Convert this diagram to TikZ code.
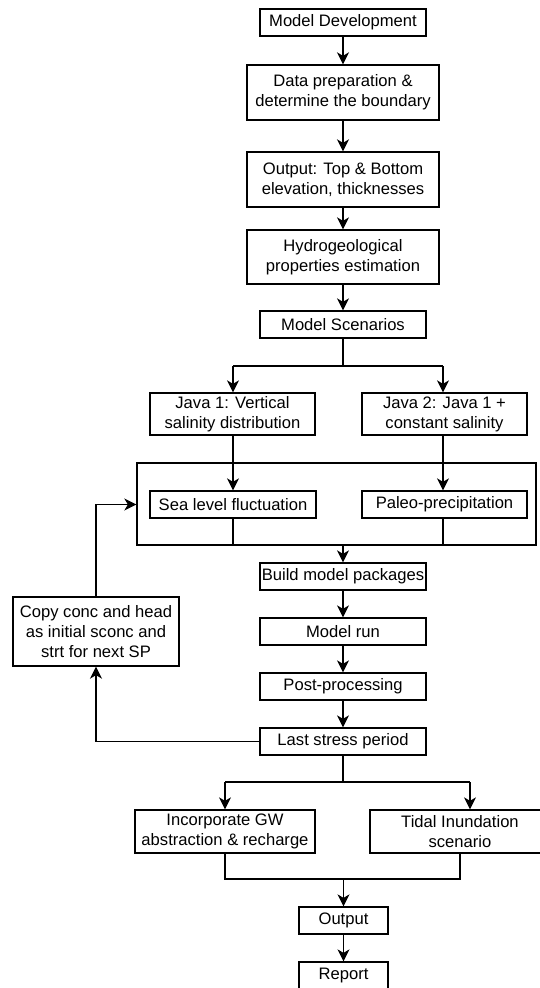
\documentclass[tikz,border=0pt]{standalone}
\usepackage{fontspec}
\setmainfont{Liberation Sans}
\usetikzlibrary{arrows.meta,positioning,calc}
\tikzset{
  box/.style={draw=black, line width=1.3pt, fill=white, align=center, inner sep=1pt,
    font=\fontsize{16.6}{20}\selectfont, minimum width=#1},
  box/.default=166pt,
  link/.style={line width=1.4pt, draw=black},
  arr/.style={link, -{Stealth[length=12pt,width=12pt,inset=3.5pt]}},
}
\begin{document}
\begin{tikzpicture}[x=1pt,y=-1pt]
\fill[white] (0,0) rectangle (539,988);
\useasboundingbox (0,0) rectangle (539,988);

% container
\node[draw=black, line width=1.3pt, minimum width=399pt, minimum height=82pt, inner sep=0pt] (cont) at (336.5,504) {};

\node[box=166pt, minimum height=27pt] (md) at (343,22.5) {Model Development};
\node[box=192pt, minimum height=55pt] (dp) at (343,92.5) {Data preparation \&\\determine the boundary};
\node[box=192pt, minimum height=55pt] (ot) at (343,179.5) {Output: Top \& Bottom\\elevation, thicknesses};
\node[box=192pt, minimum height=54pt] (hp) at (343,257) {Hydrogeological\\properties estimation};
\node[box=166pt, minimum height=27pt] (ms) at (343,324.5) {Model Scenarios};
\node[box=165pt, minimum height=42pt] (j1) at (232.5,414) {Java 1: Vertical\\salinity distribution};
\node[box=165pt, minimum height=42pt] (j2) at (444.5,414) {Java 2: Java 1 +\\constant salinity};
\node[box=166pt, minimum height=27pt] (sl) at (233,504.5) {Sea level fluctuation};
\node[box=165pt, minimum height=27pt] (pp) at (444.5,504.5) {Paleo-precipitation};
\node[box=166pt, minimum height=27pt] (bm) at (343,576.5) {Build model packages};
\node[box=166pt, minimum height=27pt] (mr) at (343,631.5) {Model run};
\node[box=166pt, minimum height=27pt] (pc) at (343,686.5) {Post-processing};
\node[box=166pt, minimum height=27pt] (ls) at (343,741.5) {Last stress period};
\node[box=166pt, minimum height=69pt] (cp) at (96,631.5) {Copy conc and head\\as initial sconc and\\strt for next SP};
\node[box=180pt, minimum height=43pt] (ig) at (225,831.5) {Incorporate GW\\abstraction \& recharge};
\node[box=180pt, minimum height=43pt] (ti) at (460,831.5) {Tidal Inundation\\scenario};
\node[box=89pt, minimum height=27pt] (out) at (343.5,920.5) {Output};
\node[box=89pt, minimum height=27pt] (rep) at (343.5,975.5) {Report};

% coordinates
\coordinate (s1) at (343,366);
\coordinate (s1l) at (233,366);
\coordinate (s1r) at (443,366);
\coordinate (s2) at (343,782);
\coordinate (s2l) at (225,782);
\coordinate (s2r) at (470,782);
\coordinate (m2l) at (225,879);
\coordinate (m2r) at (460,879);
\coordinate (m2) at (343.5,879);
\coordinate (lp1) at (96,741.5);
\coordinate (lp2) at (96,504.5);

\draw[arr] (md) -- (dp);
\draw[arr] (dp) -- (ot);
\draw[arr] (ot) -- (hp);
\draw[arr] (hp) -- (ms);
\draw[link] (ms.south) -- (s1);
\draw[link] (s1l) -- (s1r);
\draw[arr] (s1l) -- (s1l |- j1.north);
\draw[arr] (s1r) -- (s1r |- j2.north);
\draw[arr] (j1.south -| sl.north) -- (sl.north);
\draw[arr] (j2.south -| s1r) -- (s1r |- pp.north);
\draw[link] (sl.south) -- (sl.south |- cont.south);
\draw[link] (pp.south -| s1r) -- (s1r |- cont.south);
\draw[arr] (bm.north |- cont.south) -- (bm.north);
\draw[arr] (bm) -- (mr);
\draw[arr] (mr) -- (pc);
\draw[arr] (pc) -- (ls);
\draw[arr] (ls.west) -- (lp1) -- (cp.south);
\draw[arr] (cp.north) -- (lp2) -- (cont.west |- lp2);
\draw[link] (ls.south) -- (s2);
\draw[link] (s2l) -- (s2r);
\draw[arr] (s2l) -- (ig.north);
\draw[arr] (s2r) -- (s2r |- ti.north);
\draw[link] (ig.south) -- (m2l) -- (m2r) -- (ti.south);
\draw[arr] (m2) -- (out.north);
\draw[arr] (out) -- (rep);
\end{tikzpicture}
\end{document}
